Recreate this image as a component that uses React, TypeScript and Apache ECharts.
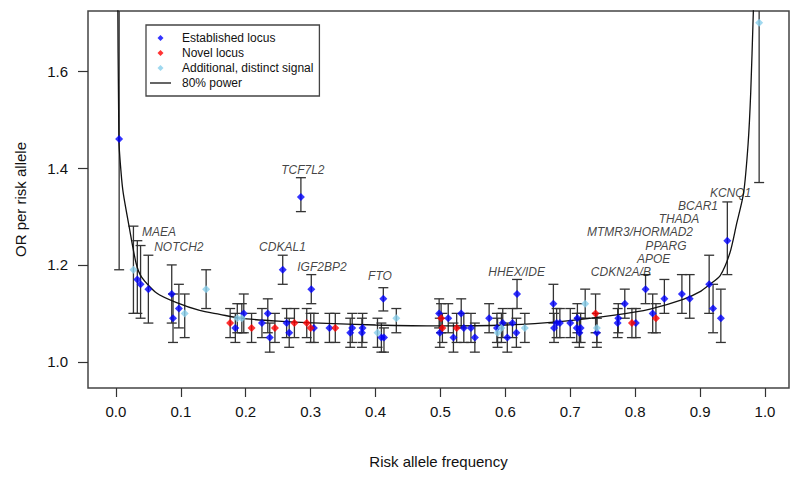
import { useEffect, useRef } from "react";
import * as echarts from "echarts";

const X_TICKS = [0, 0.1, 0.2, 0.3, 0.4, 0.5, 0.6, 0.7, 0.8, 0.9, 1.0];
const Y_TICKS = [1.0, 1.2, 1.4, 1.6];

// [risk allele frequency, OR, lower CI, upper CI]
const established: number[][] = [
  [0.005, 1.46, 1.19, 1.9],
  [0.033, 1.17, 1.1, 1.25],
  [0.038, 1.16, 1.09, 1.24],
  [0.05, 1.15, 1.08, 1.22],
  [0.086, 1.14, 1.08, 1.2],
  [0.088, 1.09, 1.04, 1.14],
  [0.097, 1.11, 1.07, 1.16],
  [0.184, 1.07, 1.04, 1.1],
  [0.197, 1.1, 1.06, 1.14],
  [0.225, 1.08, 1.05, 1.11],
  [0.234, 1.1, 1.06, 1.13],
  [0.237, 1.05, 1.02, 1.08],
  [0.257, 1.19, 1.16, 1.22],
  [0.263, 1.08, 1.05, 1.11],
  [0.267, 1.06, 1.03, 1.09],
  [0.285, 1.34, 1.31, 1.38],
  [0.301, 1.15, 1.12, 1.18],
  [0.305, 1.07, 1.04, 1.1],
  [0.329, 1.07, 1.04, 1.1],
  [0.361, 1.06, 1.03, 1.09],
  [0.364, 1.07, 1.04, 1.1],
  [0.379, 1.06, 1.03, 1.09],
  [0.38, 1.07, 1.04, 1.1],
  [0.409, 1.05, 1.02, 1.08],
  [0.413, 1.05, 1.02, 1.07],
  [0.412, 1.13, 1.105, 1.153],
  [0.498, 1.1, 1.07, 1.13],
  [0.499, 1.06, 1.03, 1.09],
  [0.512, 1.09, 1.06, 1.12],
  [0.52, 1.05, 1.02, 1.08],
  [0.532, 1.1, 1.07, 1.13],
  [0.536, 1.07, 1.04, 1.1],
  [0.547, 1.07, 1.04, 1.1],
  [0.553, 1.05, 1.02, 1.08],
  [0.575, 1.09, 1.06, 1.12],
  [0.587, 1.07, 1.04, 1.1],
  [0.596, 1.08, 1.05, 1.11],
  [0.603, 1.05, 1.02, 1.08],
  [0.611, 1.08, 1.05, 1.11],
  [0.617, 1.06, 1.03, 1.09],
  [0.618, 1.14, 1.11, 1.17],
  [0.674, 1.12, 1.08, 1.16],
  [0.675, 1.07, 1.04, 1.1],
  [0.679, 1.08, 1.05, 1.11],
  [0.684, 1.08, 1.05, 1.11],
  [0.7, 1.08, 1.05, 1.11],
  [0.71, 1.07, 1.04, 1.1],
  [0.711, 1.09, 1.06, 1.12],
  [0.714, 1.06, 1.03, 1.09],
  [0.716, 1.07, 1.04, 1.1],
  [0.741, 1.06, 1.03, 1.09],
  [0.773, 1.08, 1.05, 1.11],
  [0.774, 1.09, 1.06, 1.12],
  [0.784, 1.12, 1.09, 1.15],
  [0.801, 1.08, 1.05, 1.11],
  [0.816, 1.15, 1.12, 1.18],
  [0.827, 1.1, 1.06, 1.14],
  [0.845, 1.13, 1.1, 1.17],
  [0.872, 1.14, 1.1, 1.18],
  [0.884, 1.13, 1.09, 1.18],
  [0.914, 1.16, 1.1, 1.22],
  [0.92, 1.11, 1.06, 1.16],
  [0.932, 1.09, 1.04, 1.15],
  [0.942, 1.25, 1.18, 1.33],
];

const novel: number[][] = [
  [0.176, 1.08, 1.05, 1.11],
  [0.209, 1.07, 1.04, 1.1],
  [0.245, 1.07, 1.04, 1.1],
  [0.275, 1.08, 1.05, 1.11],
  [0.294, 1.08, 1.05, 1.11],
  [0.3, 1.07, 1.04, 1.1],
  [0.338, 1.07, 1.04, 1.1],
  [0.501, 1.09, 1.06, 1.12],
  [0.503, 1.07, 1.04, 1.1],
  [0.525, 1.07, 1.04, 1.1],
  [0.739, 1.1, 1.06, 1.14],
  [0.795, 1.08, 1.05, 1.11],
  [0.832, 1.09, 1.06, 1.12],
];

const additional: number[][] = [
  [0.027, 1.19, 1.1, 1.28],
  [0.106, 1.1, 1.05, 1.14],
  [0.139, 1.15, 1.11, 1.19],
  [0.187, 1.09, 1.06, 1.12],
  [0.194, 1.09, 1.06, 1.12],
  [0.403, 1.06, 1.03, 1.09],
  [0.432, 1.09, 1.06, 1.11],
  [0.588, 1.06, 1.03, 1.09],
  [0.594, 1.07, 1.04, 1.1],
  [0.63, 1.07, 1.04, 1.1],
  [0.723, 1.12, 1.09, 1.15],
  [0.741, 1.07, 1.04, 1.1],
  [0.991, 1.7, 1.37, 2.0],
];

// 80% power curve [frequency, OR]
const powerCurve: number[][] = [
  [0.0025, 1.85], [0.0046, 1.458], [0.008, 1.39], [0.0113, 1.348],
  [0.0205, 1.278], [0.031, 1.204], [0.0396, 1.175], [0.0627, 1.142],
  [0.0935, 1.122], [0.129, 1.106], [0.16, 1.098], [0.191, 1.09],
  [0.25, 1.084], [0.314, 1.08], [0.4, 1.076], [0.5, 1.074],
  [0.6, 1.076], [0.684, 1.083], [0.771, 1.097], [0.823, 1.109],
  [0.874, 1.129], [0.9, 1.145], [0.914, 1.159], [0.931, 1.178],
  [0.946, 1.225], [0.956, 1.283], [0.967, 1.348], [0.974, 1.45],
  [0.978, 1.555], [0.982, 1.72], [0.985, 1.85],
];

// gene label anchors [name, frequency, OR]
const geneLabels: [string, number, number][] = [
  ["MAEA", 0.0663, 1.268],
  ["NOTCH2", 0.097, 1.237],
  ["TCF7L2", 0.288, 1.396],
  ["CDKAL1", 0.2566, 1.237],
  ["IGF2BP2", 0.3174, 1.1965],
  ["FTO", 0.4068, 1.177],
  ["HHEX/IDE", 0.6174, 1.186],
  ["CDKN2A/B", 0.778, 1.1856],
  ["APOE", 0.8285, 1.2128],
  ["PPARG", 0.8474, 1.24],
  ["MTMR3/HORMAD2", 0.8074, 1.2672],
  ["THADA", 0.8675, 1.2944],
  ["BCAR1", 0.8968, 1.3216],
  ["KCNQ1", 0.947, 1.3485],
];

const FONT = "'Liberation Sans', Arial, sans-serif";
const LINE_ICON = "path://M0,0h21v1.3h-21z";
const DIAMOND_ICON = "path://M3,0L6,3L3,6L0,3Z";

export default function App() {
  const ref = useRef<HTMLDivElement>(null);
  useEffect(() => {
    const chart = echarts.init(ref.current!, null, { renderer: "svg" });
    const bars = [...established, ...novel, ...additional].map((d) => [d[0], d[2], d[3]]);
    const barStyle = { stroke: "#333", lineWidth: 1.3, fill: "none" };
    chart.setOption({
      animation: false,
      textStyle: { fontFamily: FONT },
      grid: {
        left: 88, right: 11, top: 11, bottom: 94,
        show: true, borderColor: "#444", borderWidth: 1.5, backgroundColor: "transparent",
      },
      legend: {
        orient: "vertical",
        left: 146, top: 25,
        padding: [7, 6, 7, 4],
        itemWidth: 21, itemHeight: 6, itemGap: 3,
        symbolKeepAspect: true,
        borderColor: "#444", borderWidth: 1.3, backgroundColor: "#fff",
        textStyle: { fontSize: 12, color: "#111", fontFamily: FONT, padding: [0, 0, 0, 6], lineHeight: 12 },
        data: [
          { name: "Established locus", icon: DIAMOND_ICON },
          { name: "Novel locus", icon: DIAMOND_ICON },
          { name: "Additional, distinct signal", icon: DIAMOND_ICON },
          { name: "80% power", icon: LINE_ICON, itemStyle: { color: "#111" } },
        ],
      },
      xAxis: {
        type: "value", min: -0.043, max: 1.037,
        axisLine: { show: false, onZero: false },
        splitLine: { show: false },
        axisTick: { show: true, length: 9, lineStyle: { color: "#333", width: 1.2 }, customValues: X_TICKS },
        axisLabel: { fontSize: 15, color: "#111", margin: 16, customValues: X_TICKS, formatter: (v: number) => v.toFixed(1) },
        name: "Risk allele frequency", nameLocation: "middle", nameGap: 66,
        nameTextStyle: { fontSize: 15, color: "#111" },
      },
      yAxis: {
        type: "value", min: 0.946, max: 1.724,
        axisLine: { show: false, onZero: false },
        splitLine: { show: false },
        axisTick: { show: true, length: 10, lineStyle: { color: "#333", width: 1.2 }, customValues: Y_TICKS },
        axisLabel: { fontSize: 15, color: "#111", margin: 20, customValues: Y_TICKS, formatter: (v: number) => v.toFixed(1) },
        name: "OR per risk allele", nameLocation: "middle", nameGap: 60,
        nameTextStyle: { fontSize: 15, color: "#111" },
      },
      series: [
        {
          type: "custom", name: "CI", clip: true, z: 2, silent: true,
          encode: { x: 0, y: 1 },
          data: bars,
          renderItem: (params: any, api: any) => {
            const x = api.value(0);
            const lo = api.coord([x, api.value(1)]);
            const hi = api.coord([x, api.value(2)]);
            const w = 5;
            return {
              type: "group",
              children: [
                { type: "line", shape: { x1: lo[0], y1: lo[1], x2: hi[0], y2: hi[1] }, style: barStyle },
                { type: "line", shape: { x1: lo[0] - w, y1: lo[1], x2: lo[0] + w, y2: lo[1] }, style: barStyle },
                { type: "line", shape: { x1: hi[0] - w, y1: hi[1], x2: hi[0] + w, y2: hi[1] }, style: barStyle },
              ],
            };
          },
        },
        {
          type: "line", name: "80% power", data: powerCurve, symbol: "none", smooth: 0.25,
          lineStyle: { color: "#111", width: 1.3 }, itemStyle: { color: "#111" }, z: 3, clip: true,
        },
        {
          type: "scatter", name: "Established locus", symbol: "diamond", symbolSize: 8, z: 4,
          itemStyle: { color: "#0000FF" }, data: established.map((d) => [d[0], d[1]]),
        },
        {
          type: "scatter", name: "Novel locus", symbol: "diamond", symbolSize: 8, z: 4,
          itemStyle: { color: "#FF0000" }, data: novel.map((d) => [d[0], d[1]]),
        },
        {
          type: "scatter", name: "Additional, distinct signal", symbol: "diamond", symbolSize: 8, z: 4,
          itemStyle: { color: "#87CEEB" }, data: additional.map((d) => [d[0], d[1]]),
        },
        {
          type: "scatter", name: "genes", symbolSize: 0, z: 5, silent: true,
          data: geneLabels.map((g) => ({ name: g[0], value: [g[1], g[2]] })),
          label: {
            show: true, position: "inside", formatter: (p: any) => p.name,
            fontSize: 12, fontStyle: "italic", color: "#111", fontFamily: FONT, lineHeight: 10,
          },
          labelLayout: { hideOverlap: false },
        },
      ],
    });
    return () => chart.dispose();
  }, []);
  return <div ref={ref} style={{ position: "absolute", left: 0, top: 0, width: 800, height: 482 }} />;
}
